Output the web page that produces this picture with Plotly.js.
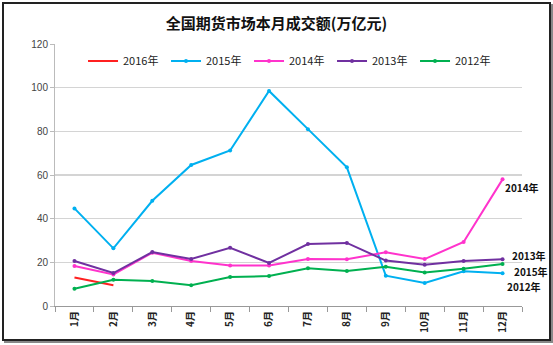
<!DOCTYPE html>
<html><head><meta charset="utf-8">
<script src="https://cdn.plot.ly/plotly-3.0.1.min.js"></script>
<style>
html,body{margin:0;padding:0;background:#fff;}
#wrap{position:relative;width:553px;height:345px;}
#chart{position:absolute;left:0;top:0;width:553px;height:345px;}
#frame{position:absolute;left:2px;top:2px;width:545px;height:335px;border:2px solid #222;box-shadow:2px 2px 0 #888;pointer-events:none;}
</style></head>
<body><div id="wrap"><div id="chart"></div><div id="frame"></div></div>
<script>
var months = ['1月','2月','3月','4月','5月','6月','7月','8月','9月','10月','11月','12月'];
var v2016 = [13.1, 9.5];
var v2015 = [44.7, 26.4, 48.2, 64.6, 71.2, 98.5, 81.0, 63.5, 13.9, 10.5, 15.9, 15.0];
var v2014 = [18.3, 14.4, 24.4, 20.6, 18.6, 18.6, 21.5, 21.4, 24.6, 21.5, 29.3, 58.0];
var v2013 = [20.6, 15.1, 24.7, 21.5, 26.7, 19.7, 28.4, 28.9, 20.8, 18.9, 20.6, 21.4];
var v2012 = [7.9, 12.0, 11.5, 9.5, 13.3, 13.7, 17.3, 16.0, 18.0, 15.3, 17.1, 19.2];
var names = ['2016年','2015年','2014年','2013年','2012年'];
var colors = ['#ff2020','#00b0f0','#ff33cc','#7030a0','#00b050'];
var series = [v2016, v2015, v2014, v2013, v2012];

var traces = series.map(function(s, i){
  return {
    x: months.slice(0, s.length), y: s, name: names[i], type: 'scatter',
    mode: i === 0 ? 'lines' : 'lines+markers',
    line: {color: colors[i], width: 2},
    marker: {color: colors[i], size: 4}
  };
});

var endLabels = [
  {name:'2014年', y: v2014[11], dx: 1, dy: -8},
  {name:'2013年', y: v2013[11], dx: 8, dy: 4},
  {name:'2015年', y: v2015[11], dx: 10, dy: 2},
  {name:'2012年', y: v2015[11], dx: 3, dy: -13}
];
var annotations = endLabels.map(function(a){
  return {x: '12月', y: a.y, xref:'x', yref:'y', text: '<b>' + a.name + '</b>', showarrow:false,
    xanchor:'left', yanchor:'middle', xshift: a.dx, yshift: a.dy, borderpad:0,
    font:{family:'Noto Sans CJK SC, DejaVu Sans', size:10, color:'#111'}};
});

var layout = {
  width: 553, height: 345,
  margin: {l:55, r:31, t:44, b:39},
  paper_bgcolor:'#fff', plot_bgcolor:'#fff',
  title: {text:'<b>全国期货市场本月成交额(万亿元)</b>', x:0.5, xanchor:'center', y:0.932, yanchor:'middle',
    font:{family:'Noto Sans CJK SC', size:15, color:'#111'}},
  showlegend: true,
  legend: {orientation:'h', x:0.06, xanchor:'left', y:0.935, yanchor:'middle',
    font:{family:'Noto Sans CJK SC, DejaVu Sans', size:11, color:'#222'},
    entrywidth: 38, itemwidth: 30, bgcolor:'rgba(0,0,0,0)', tracegroupgap:0},
  xaxis: {type:'category', categoryorder:'array', categoryarray: months,
    tickson:'boundaries', ticks:'outside', ticklen:5, tickcolor:'#999',
    showline:true, linecolor:'#999', linewidth:1, showgrid:false,
    tickangle:-90, tickfont:{family:'Noto Sans CJK SC', size:10, color:'#222', weight:'bold'},
    range:[-0.5, 11.5], fixedrange:true},
  yaxis: {range:[0,120], dtick:20, showgrid:true, gridcolor:'#d4d4d4', gridwidth:1.5,
    showline:true, linecolor:'#bbb', ticks:'outside', ticklen:4, tickcolor:'#bbb',
    tickfont:{family:'Liberation Sans, Arial', size:10, color:'#444'}, zeroline:false, fixedrange:true},
  annotations: annotations
};
Plotly.newPlot('chart', traces, layout, {displayModeBar:false, staticPlot:true});
</script></body></html>
